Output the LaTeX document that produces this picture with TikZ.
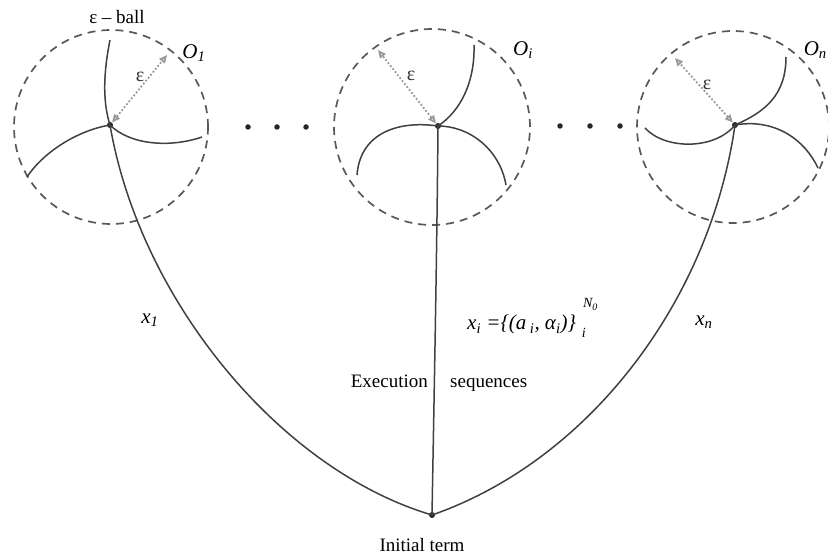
\documentclass[tikz,border=0pt]{standalone}
\usepackage{fontspec}
\setmainfont{Liberation Serif}
\usetikzlibrary{arrows.meta}
\tikzset{
  ball/.style={draw=black!65, dash pattern=on 8pt off 6pt, line width=1.7pt},
  path/.style={draw=black!75, line width=1.5pt},
  radius arrow/.style={draw=black!40, dotted, line width=1.8pt, {Triangle[open,length=8pt,width=7pt]}-{Triangle[open,length=8pt,width=7pt]}},
  pt/.style={circle, fill=black!85, inner sep=0pt, minimum size=6pt},
  sep dot/.style={circle, fill=black!85, inner sep=0pt, minimum size=5.5pt},
  lbl/.style={font=\fontsize{19}{22}\selectfont, inner sep=0pt},
  ilbl/.style={font=\fontsize{21}{24}\selectfont\itshape, inner sep=0pt},
  eps/.style={font=\fontsize{20}{22}\selectfont, inner sep=0pt, text=black!80},
}
\begin{document}
\begin{tikzpicture}[x=1pt,y=-1pt]
\useasboundingbox (0,0) rectangle (828,556);
% balls
\node[ball, circle, minimum size=194pt, inner sep=0pt] (b1) at (111,127) {};
\node[ball, circle, minimum size=196pt, inner sep=0pt] (b2) at (432,127) {};
\node[ball, circle, minimum size=192pt, inner sep=0pt] (b3) at (733,127) {};
% points
\node[pt] (p1) at (110,125) {};
\node[pt] (p2) at (438,126) {};
\node[pt] (p3) at (735,125) {};
\node[pt] (init) at (432,515) {};
% separating dots
\node[sep dot] (d1) at (248,127) {};
\node[sep dot] (d2) at (277,127) {};
\node[sep dot] (d3) at (306,127) {};
\node[sep dot] (d4) at (560,126) {};
\node[sep dot] (d5) at (590,126) {};
\node[sep dot] (d6) at (620,126) {};
% free ends of the local branches
\coordinate (e1a) at (110,40);
\coordinate (e1b) at (27,177);
\coordinate (e1c) at (202,137);
\coordinate (e2a) at (474,45);
\coordinate (e2b) at (357,175);
\coordinate (e2c) at (506,185);
\coordinate (e3a) at (786,57);
\coordinate (e3b) at (645,128);
\coordinate (e3c) at (818,168);
% radius ends
\coordinate (r1) at (167,55);
\coordinate (r2) at (378,50);
\coordinate (r3) at (675,58);
% execution sequences
\draw[path] (p1.center) .. controls (140,300) and (280,470) .. (init.center);
\draw[path] (p2.center) .. controls (437,250) and (434,400) .. (init.center);
\draw[path] (p3.center) .. controls (710,300) and (590,460) .. (init.center);
% local branches
\draw[path] (p1.center) .. controls (102,100) and (104,70) .. (e1a);
\draw[path] (p1.center) .. controls (80,130) and (45,150) .. (e1b);
\draw[path] (p1.center) .. controls (130,145) and (170,148) .. (e1c);
\draw[path] (p2.center) .. controls (462,110) and (475,80) .. (e2a);
\draw[path] (p2.center) .. controls (395,120) and (360,135) .. (e2b);
\draw[path] (p2.center) .. controls (470,126) and (500,150) .. (e2c);
\draw[path] (p3.center) .. controls (765,112) and (786,95) .. (e3a);
\draw[path] (p3.center) .. controls (715,150) and (665,150) .. (e3b);
\draw[path] (p3.center) .. controls (775,118) and (805,140) .. (e3c);
% radii
\draw[radius arrow] (p1) -- (r1);
\draw[radius arrow] (p2) -- (r2);
\draw[radius arrow] (p3) -- (r3);
% labels
\node[lbl] (ballname) at (117,17) {ε – ball};
\node[eps] (eps1) at (140,77) {ε};
\node[eps] (eps2) at (411,76) {ε};
\node[eps] (eps3) at (707,85) {ε};
\node[ilbl] (o1) at (194,53) {O\textsubscript{1}};
\node[ilbl] (oi) at (523,50) {O\textsubscript{i}};
\node[ilbl, anchor=east] (on) at (827,50) {O\textsubscript{n}};
\node[ilbl] (x1) at (150,320) {x\textsubscript{1}};
\node[ilbl] (xn) at (704,322) {x\textsubscript{n}};
\node[ilbl, anchor=base west] (xi) at (467,330) {x\textsubscript{i} =\{(a\,\textsubscript{i}, α\textsubscript{i})\}\rlap{\raisebox{-8pt}{\fontsize{14}{16}\selectfont\, i}}\raisebox{22pt}{\fontsize{14}{16}\selectfont\ \ N\textsubscript{0}}};
\node[lbl, anchor=base east] (exe) at (428,388) {Execution};
\node[lbl, anchor=base west] (seq) at (450,388) {sequences};
\node[lbl] (initlbl) at (422,545) {Initial term};
\end{tikzpicture}
\end{document}
